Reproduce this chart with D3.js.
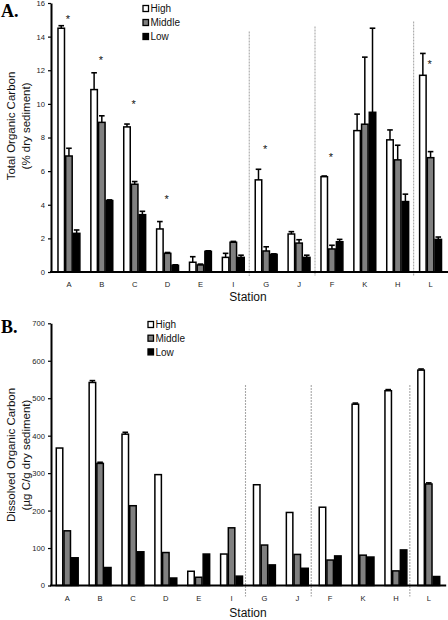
<!DOCTYPE html>
<html><head><meta charset="utf-8">
<script src="https://cdn.jsdelivr.net/npm/d3@7"></script>
<style>html,body{margin:0;padding:0;background:#fff;} svg{display:block;}</style>
</head><body>
<svg id="chart" width="448" height="620"></svg>
<script>
const stations = ["A","B","C","D","E","I","G","J","F","K","H","L"];
const seriesNames = ["High","Middle","Low"];
const seriesFill = ["#ffffff","#808080","#000000"];

// Panel A: Total Organic Carbon (% dry sediment)
const tocHigh      = [14.5, 10.85, 8.63, 2.56, 0.58, 0.87, 5.48, 2.26, 5.67, 8.41, 7.86, 11.7];
const tocHighErr   = [0.15, 1.0, 0.17, 0.44, 0.33, 0.24, 0.63, 0.14, 0.04, 0.98, 0.59, 1.3];
const tocMiddle    = [6.9, 8.9, 5.22, 1.11, 0.42, 1.77, 1.25, 1.72, 1.37, 8.79, 6.67, 6.8];
const tocMiddleErr = [0.46, 0.39, 0.16, 0.05, 0.05, 0.05, 0.25, 0.2, 0.22, 3.99, 0.87, 0.36];
const tocLow       = [2.3, 4.25, 3.41, 0.4, 1.23, 0.87, 1.05, 0.87, 1.8, 9.5, 4.19, 1.94];
const tocLowErr    = [0.2, 0.04, 0.2, 0.03, 0.03, 0.13, 0.03, 0.13, 0.14, 5.0, 0.44, 0.14];
const tocTicks = [0,2,4,6,8,10,12,14,16];
const tocStarStations = ["A","B","C","D","G","F","L"];
const tocStarLevels   = [15.2, 12.74, 10.1, 4.48, 7.46, 7.0, 12.48];
const tocSeparatorTops = [14.3, 14.6, 14.9];

// Panel B: Dissolved Organic Carbon (µg C/g dry sediment)
const docHigh      = [367, 542, 404, 296, 38, 84, 269, 195, 209, 484, 520, 575];
const docHighErr   = [0, 5, 5, 0, 0, 0, 0, 0, 0, 3, 3, 3];
const docMiddle    = [146, 326, 213, 88, 22, 154, 108, 83, 68, 81, 39, 271];
const docMiddleErr = [0, 3, 0, 0, 0, 0, 0, 0, 0, 0, 0, 3];
const docLow       = [74, 48, 90, 20, 84, 25, 55, 46, 79, 76, 95, 24];
const docLowErr    = [0, 0, 0, 0, 0, 0, 0, 0, 0, 0, 0, 0];
const docTicks = [0,100,200,300,400,500,600,700];
const docSeparatorTops = [535, 535, 535];

const separatorsAfter = ["I","J","H"];

const svg = d3.select("#chart");
const FONT = "'Liberation Sans', Arial, sans-serif";

function drawPanel(cfg) {
  const g = svg.append("g");
  const x = d3.scaleBand().domain(stations).range(cfg.xRange).paddingInner(0).paddingOuter(0);
  const y = d3.scaleLinear().domain(cfg.yDomain).range(cfg.yRange);
  const groupW = 23.1;
  const xs = d3.scaleBand().domain(seriesNames).range([0, groupW]).padding(0);
  const off = (x.bandwidth() - groupW) / 2;

  // separators
  separatorsAfter.forEach((s, i) => {
    const sx = x(s) + x.bandwidth() + cfg.sepShift;
    g.append("line")
      .attr("x1", sx).attr("x2", sx)
      .attr("y1", y(cfg.sepTops[i])).attr("y2", cfg.yRange[0] + cfg.sepBelow)
      .attr("stroke", "#a8a8a8").attr("stroke-width", 1.1)
      .attr("stroke-dasharray", "2,1");
  });

  const data = [];
  stations.forEach((st, i) => {
    seriesNames.forEach((sn, j) => {
      data.push({st, sn, j, v: cfg.values[j][i], e: cfg.errors[j][i]});
    });
  });
  g.selectAll("rect.bar").data(data).enter().append("rect")
    .attr("class", "bar")
    .attr("x", d => x(d.st) + off + xs(d.sn) + 0.6)
    .attr("width", xs.bandwidth() - 1.2)
    .attr("y", d => y(d.v))
    .attr("height", d => y(0) - y(d.v))
    .attr("fill", d => seriesFill[d.j])
    .attr("stroke", "#000").attr("stroke-width", 1.5);

  const eb = data.filter(d => d.e > 0);
  g.selectAll("line.err").data(eb).enter().append("line")
    .attr("x1", d => x(d.st) + off + xs(d.sn) + xs.bandwidth()/2)
    .attr("x2", d => x(d.st) + off + xs(d.sn) + xs.bandwidth()/2)
    .attr("y1", d => y(d.v)).attr("y2", d => y(d.v + d.e))
    .attr("stroke", "#000").attr("stroke-width", 1.5);
  g.selectAll("line.cap").data(eb).enter().append("line")
    .attr("x1", d => x(d.st) + off + xs(d.sn) + xs.bandwidth()/2 - 2.8)
    .attr("x2", d => x(d.st) + off + xs(d.sn) + xs.bandwidth()/2 + 2.8)
    .attr("y1", d => y(d.v + d.e)).attr("y2", d => y(d.v + d.e))
    .attr("stroke", "#000").attr("stroke-width", 1.6);

  if (cfg.stars) {
    cfg.stars.forEach((st, i) => {
      g.append("text")
        .attr("x", x(st) + x.bandwidth()/2 - 1)
        .attr("y", y(cfg.starLevels[i]) + 6.2)
        .attr("text-anchor", "middle")
        .attr("font-family", FONT).attr("font-size", 11)
        .attr("fill", "#111")
        .text("*");
    });
  }

  const ya = g.append("g").attr("transform", `translate(${cfg.axisX},0)`)
    .call(d3.axisLeft(y).tickValues(cfg.ticks).tickSize(3).tickSizeOuter(0).tickPadding(3));
  ya.select(".domain").attr("stroke-width", 2).attr("stroke", "#000");
  ya.selectAll(".tick line").attr("stroke-width", 1.2);
  ya.selectAll(".tick text").attr("font-family", FONT).attr("font-size", 7.6).attr("fill", "#222");

  g.append("line")
    .attr("x1", cfg.axisX - 1).attr("x2", cfg.xRange[1] + 1)
    .attr("y1", y(0)).attr("y2", y(0))
    .attr("stroke", "#000").attr("stroke-width", 2);
  const xa = g.append("g").attr("transform", `translate(0,${y(0)})`)
    .call(d3.axisBottom(x).tickSize(0).tickPadding(cfg.xLabelPad));
  xa.select(".domain").remove();
  xa.selectAll(".tick text").attr("font-family", FONT).attr("font-size", 7.6).attr("fill", "#222");

  const t = g.append("text")
    .attr("transform", `translate(0,${cfg.yTitleY}) rotate(-90)`)
    .attr("text-anchor", "middle")
    .attr("font-family", FONT).attr("font-size", 11.5).attr("fill", "#111");
  t.append("tspan").attr("x", 0).attr("y", 15).text(cfg.yTitle1);
  t.append("tspan").attr("x", 0).attr("y", 29.5).text(cfg.yTitle2);

  g.append("text")
    .attr("x", 248).attr("y", cfg.stationY)
    .attr("text-anchor", "middle")
    .attr("font-family", FONT).attr("font-size", 12).attr("fill", "#111")
    .text("Station");

  g.append("text")
    .attr("x", 1).attr("y", cfg.letterY)
    .attr("font-family", "'Liberation Serif', 'Times New Roman', serif")
    .attr("font-weight", "bold").attr("font-size", 18).attr("fill", "#000")
    .text(cfg.letter);

  const lg = g.append("g").attr("transform", `translate(${cfg.legendX},${cfg.legendY})`);
  seriesNames.forEach((sn, j) => {
    lg.append("rect")
      .attr("x", 0).attr("y", j * cfg.legendStep - 3)
      .attr("width", 5.5).attr("height", 6)
      .attr("fill", seriesFill[j]).attr("stroke", "#000").attr("stroke-width", 1.3);
    lg.append("text")
      .attr("x", 7.5).attr("y", j * cfg.legendStep + 3.6)
      .attr("font-family", FONT).attr("font-size", 10).attr("fill", "#111")
      .text(sn);
  });
}

drawPanel({
  letter: "A.", letterY: 17,
  xRange: [52.5, 447], yDomain: [0, 16], yRange: [272, 3], axisX: 51,
  values: [tocHigh, tocMiddle, tocLow], errors: [tocHighErr, tocMiddleErr, tocLowErr],
  ticks: tocTicks, stars: tocStarStations, starLevels: tocStarLevels,
  sepTops: tocSeparatorTops, sepBelow: 4, sepShift: -0.5,
  xLabelPad: 10, stationY: 301,
  yTitleY: 126, yTitle1: "Total Organic Carbon", yTitle2: "(% dry sediment)",
  legendX: 143, legendY: 8.5, legendStep: 14
});

drawPanel({
  letter: "B.", letterY: 333,
  xRange: [50.8, 445.2], yDomain: [0, 700], yRange: [585.5, 323.3], axisX: 51,
  values: [docHigh, docMiddle, docLow], errors: [docHighErr, docMiddleErr, docLowErr],
  ticks: docTicks, stars: null, starLevels: null,
  sepTops: docSeparatorTops, sepBelow: 11, sepShift: -2.5,
  xLabelPad: 10, stationY: 616.5,
  yTitleY: 455, yTitle1: "Dissolved Organic Carbon", yTitle2: "(µg C/g dry sediment)",
  legendX: 148, legendY: 324.5, legendStep: 13.7
});
</script>
</body></html>
